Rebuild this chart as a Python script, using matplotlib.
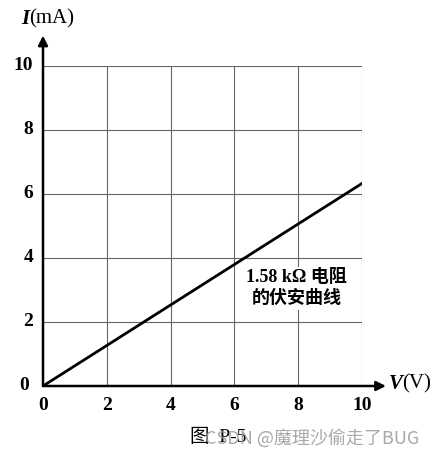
import matplotlib
matplotlib.use("Agg")
import matplotlib.pyplot as plt

# data
V = [0, 10]
I = [0, 6.33]
xticks = [0, 2, 4, 6, 8, 10]
yticks = [0, 2, 4, 6, 8, 10]

serif = ['Liberation Serif', 'DejaVu Serif']
cjk = ['Liberation Serif', 'Noto Sans CJK SC']

fig = plt.figure(figsize=(4.46, 4.55), dpi=100)
W, H = 446, 455
x0, x1 = 43, 362
y0, y1 = 386, 66
ax = fig.add_axes([x0 / W, 1 - y0 / H, (x1 - x0) / W, (y0 - y1) / H])
ax.set_xlim(0, 10)
ax.set_ylim(0, 10)
for s in ax.spines.values():
    s.set_visible(False)
ax.set_xticks([])
ax.set_yticks([])

# grid
for t in xticks[1:]:
    ax.plot([t, t], [0, 10], color='#666666', lw=0.8, zorder=1)
for t in yticks[1:]:
    ax.plot([0, 10], [t, t], color='#666666', lw=0.8, zorder=1)

# axes arrows
ax.annotate('', xy=(10.75, 0), xytext=(0, 0), annotation_clip=False,
            arrowprops=dict(arrowstyle='-|>', lw=1.8, color='black',
                            mutation_scale=14, shrinkA=0, shrinkB=0))
ax.annotate('', xy=(0, 10.95), xytext=(0, 0), annotation_clip=False,
            arrowprops=dict(arrowstyle='-|>', lw=1.8, color='black',
                            mutation_scale=14, shrinkA=0, shrinkB=0))

# data line
ax.plot(V, I, color='black', lw=2.0, zorder=3)

# tick labels
for t in xticks:
    ax.text(t, -0.35, str(t), ha='center', va='top', fontsize=14,
            family=serif, fontweight='bold', clip_on=False)
for t in yticks:
    ax.text(-0.3 if t != 0 else -0.45, t, str(t), ha='right', va='center',
            fontsize=14, family=serif, fontweight='bold', clip_on=False)

# axis labels
fig.text(21 / W, 1 - 19 / H, 'I', ha='left', va='center', fontsize=15,
         family=serif, fontstyle='italic', fontweight='bold')
fig.text(29 / W, 1 - 19 / H, '(mA)', ha='left', va='center', fontsize=15,
         family=serif)
fig.text(389 / W, 1 - 384 / H, 'V', ha='left', va='center', fontsize=15,
         family=serif, fontstyle='italic', fontweight='bold')
fig.text(402 / W, 1 - 384 / H, '(V)', ha='left', va='center', fontsize=15,
         family=serif)

# annotation
ax.text(7.95, 3.05, '1.58 kΩ 电阻\n的伏安曲线', ha='center', va='center',
        fontsize=13, family=cjk, fontweight='bold', linespacing=1.3,
        bbox=dict(facecolor='white', edgecolor='none', pad=2), zorder=4)

# caption and watermark
fig.text(190 / W, 1 - 437 / H, '图  P-5', fontsize=14, family=cjk,
         va='center', ha='left')
fig.text(205 / W, 1 - 438 / H, 'CSDN @魔理沙偷走了BUG', fontsize=13,
         family=['Noto Sans CJK SC', 'DejaVu Sans'], color='#9a9a9a',
         alpha=0.85, va='center', ha='left')

fig.savefig('out.png', dpi=100, facecolor='white')
